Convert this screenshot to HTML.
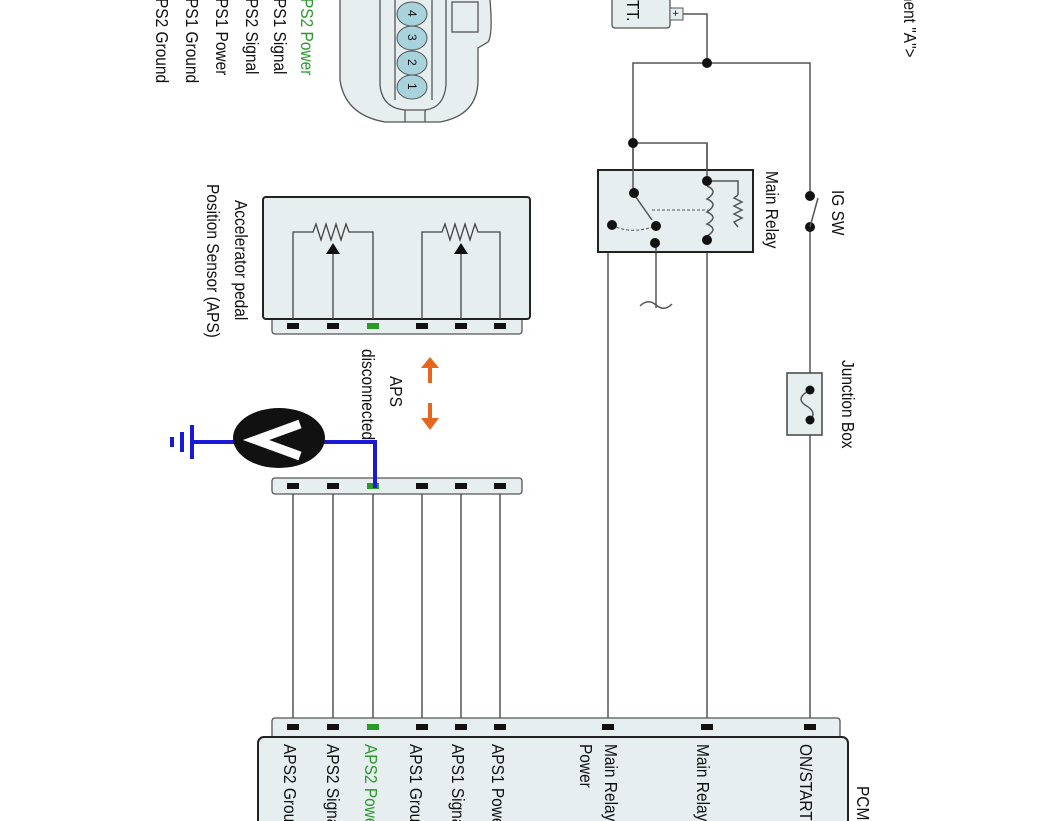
<!DOCTYPE html>
<html><head><meta charset="utf-8"><style>
html,body{margin:0;padding:0;background:#fff;}
svg{display:block;}
text{font-family:"Liberation Sans",sans-serif;font-size:18px;fill:#111;}
</style></head><body>
<svg width="1062" height="821" viewBox="0 0 1062 821" xmlns="http://www.w3.org/2000/svg">
<g>
<text transform="translate(301,-2) rotate(90) scale(0.86,1)" style="fill:#2a9a2a">PS2 Power</text>
<text transform="translate(274,-2) rotate(90) scale(0.86,1)">PS1 Signal</text>
<text transform="translate(246,-2) rotate(90) scale(0.86,1)">PS2 Signal</text>
<text transform="translate(216,-2) rotate(90) scale(0.86,1)">PS1 Power</text>
<text transform="translate(186,-2) rotate(90) scale(0.86,1)">PS1 Ground</text>
<text transform="translate(156,-2) rotate(90) scale(0.86,1)">PS2 Ground</text>
</g>
<g stroke="#555" stroke-width="1.3" fill="#e6eef0">
<path d="M340,-5 L340,80 Q345,115 385,122 L440,122 Q478,115 478,80 L478,48 L488,42 Q493,35 490,0 L490,-5 Z"/>
<path d="M380,-5 L380,85 Q382,108 405,110 L425,110 Q444,108 446,85 L446,-5" fill="none"/>
<rect x="452" y="2" width="26" height="30" fill="none"/>
<line x1="405" y1="110" x2="405" y2="122"/><line x1="425" y1="110" x2="425" y2="122"/>
<line x1="395" y1="-5" x2="395" y2="100" />
<line x1="432" y1="-5" x2="432" y2="100" />
</g>
<g stroke="#555" stroke-width="1" fill="#a9d3dc">
<ellipse cx="412" cy="14" rx="15" ry="12"/>
<ellipse cx="412" cy="38" rx="15" ry="12"/>
<ellipse cx="412" cy="63" rx="15" ry="12"/>
<ellipse cx="412" cy="87" rx="15" ry="12"/>
</g>
<text transform="translate(408,10) rotate(90)" style="font-size:12px">4</text>
<text transform="translate(408,34) rotate(90)" style="font-size:12px">3</text>
<text transform="translate(408,59) rotate(90)" style="font-size:12px">2</text>
<text transform="translate(408,83) rotate(90)" style="font-size:12px">1</text>

<rect x="612" y="-5" width="58" height="33" rx="3" fill="#e6eef0" stroke="#555" stroke-width="1.3"/>
<text transform="translate(627,0) rotate(90) scale(0.86,1)">TT.</text>
<rect x="670" y="8" width="13" height="12" fill="#e6eef0" stroke="#555" stroke-width="1"/>
<text transform="translate(672,10) rotate(90)" style="font-size:11px">+</text>
<text transform="translate(904,-20) rotate(90) scale(0.86,1)">ement "A"&gt;</text>

<g stroke="#555" stroke-width="1.5" fill="none">
<polyline points="683,14 707,14 707,63"/>
<polyline points="633,193 633,63 810,63 810,196"/>
<polyline points="633,143 707,143 707,181"/>
<line x1="810" y1="227" x2="810" y2="727"/>
<line x1="707" y1="240" x2="707" y2="727"/>
<polyline points="656,243 608,243 608,727"/>
<line x1="656" y1="226" x2="656" y2="308"/>
<path d="M640,306 Q648,298 656,305 Q664,312 672,304"/>
<line x1="293" y1="486" x2="293" y2="727"/>
<line x1="333" y1="486" x2="333" y2="727"/>
<line x1="373" y1="486" x2="373" y2="727"/>
<line x1="422" y1="486" x2="422" y2="727"/>
<line x1="461" y1="486" x2="461" y2="727"/>
<line x1="500" y1="486" x2="500" y2="727"/>
</g>

<rect x="598" y="170" width="155" height="82" fill="#e6eef0" stroke="#222" stroke-width="2"/>
<g stroke="#555" stroke-width="1.5" fill="none">
<line x1="633" y1="143" x2="633" y2="193"/>
<line x1="707" y1="143" x2="707" y2="181"/>
<line x1="633" y1="193" x2="652" y2="220"/>
<line x1="652" y1="210" x2="712" y2="210" stroke-dasharray="3,2" stroke-width="1"/>
<path d="M612,225 Q630,235 656,226" stroke-dasharray="3,2" stroke-width="1"/>
<polyline points="656,243 656,252"/>
<path d="M707,186 Q719,191 707,199 Q719,204 707,212 Q719,217 707,224 Q719,229 707,236"/>
<polyline points="707,181 738,181 738,195 M738,227 738,240 707,240"/>
<polyline points="738,195 734,198 742,202 734,206 742,210 734,214 742,218 734,222 738,227"/>
<line x1="707" y1="181" x2="707" y2="186"/>
<line x1="707" y1="236" x2="707" y2="240"/>
</g>
<g fill="#111">
<circle cx="707" cy="63" r="5"/><circle cx="633" cy="143" r="5"/>
<circle cx="634" cy="193" r="5"/><circle cx="707" cy="181" r="5"/><circle cx="707" cy="240" r="5"/>
<circle cx="656" cy="226" r="5"/><circle cx="655" cy="243" r="5"/><circle cx="612" cy="225" r="5"/>
<circle cx="810" cy="196" r="5"/><circle cx="810" cy="227" r="5"/>
</g>
<line x1="810" y1="227" x2="818" y2="198" stroke="#555" stroke-width="1.5"/>
<text transform="translate(766,171) rotate(90) scale(0.86,1)">Main Relay</text>
<text transform="translate(832,190) rotate(90) scale(0.86,1)">IG SW</text>

<rect x="787" y="373" width="35" height="62" fill="#e6eef0" stroke="#444" stroke-width="1.5"/>
<path d="M810,390 Q795,398 805,405 Q818,412 810,420" fill="none" stroke="#555" stroke-width="1.5"/>
<circle cx="810" cy="390" r="4.5" fill="#111"/><circle cx="810" cy="420" r="4.5" fill="#111"/>
<text transform="translate(842,360) rotate(90) scale(0.86,1)">Junction Box</text>

<rect x="272" y="312" width="250" height="22" rx="3" fill="#e6eef0" stroke="#555" stroke-width="1.3"/>
<rect x="263" y="197" width="267" height="122" rx="3" fill="#e6eef0" stroke="#222" stroke-width="2"/>
<g stroke="#444" stroke-width="1.3" fill="none">
<polyline points="293,319 293,232 313,232 316,224 321,240 326,224 331,240 336,224 341,240 346,224 349,232 373,232 373,319"/>
<line x1="333" y1="319" x2="333" y2="252"/>
<polyline points="422,319 422,232 442,232 445,224 450,240 455,224 460,240 465,224 470,240 475,224 478,232 500,232 500,319"/>
<line x1="461" y1="319" x2="461" y2="252"/>
</g>
<polygon points="333,243 326,254 340,254" fill="#111"/>
<polygon points="461,243 454,254 468,254" fill="#111"/>
<g>
<rect x="287" y="323" width="12" height="6" fill="#111"/><rect x="327" y="323" width="12" height="6" fill="#111"/>
<rect x="367" y="323" width="12" height="6" fill="#2a9a2a"/><rect x="416" y="323" width="12" height="6" fill="#111"/>
<rect x="455" y="323" width="12" height="6" fill="#111"/><rect x="494" y="323" width="12" height="6" fill="#111"/>
</g>
<text transform="translate(235,200) rotate(90) scale(0.86,1)">Accelerator pedal</text>
<text transform="translate(207,184) rotate(90) scale(0.86,1)">Position Sensor (APS)</text>

<g fill="#e8651f">
<rect x="428" y="366" width="4" height="17"/><polygon points="421,368 439,368 430,357"/>
<rect x="428" y="403" width="4" height="17"/><polygon points="421,418 439,418 430,430"/>
</g>
<text transform="translate(390,376) rotate(90) scale(0.86,1)">APS</text>
<text transform="translate(362,349) rotate(90) scale(0.86,1)">disconnected</text>

<rect x="272" y="478" width="250" height="16" rx="3" fill="#e6eef0" stroke="#555" stroke-width="1.3"/>
<g>
<rect x="287" y="483" width="12" height="6" fill="#111"/><rect x="327" y="483" width="12" height="6" fill="#111"/>
<rect x="367" y="483" width="12" height="6" fill="#2a9a2a"/><rect x="416" y="483" width="12" height="6" fill="#111"/>
<rect x="455" y="483" width="12" height="6" fill="#111"/><rect x="494" y="483" width="12" height="6" fill="#111"/>
</g>

<g stroke="#1a1ad6" stroke-width="4" fill="none">
<polyline points="320,442 375,442 375,488"/>
<line x1="192" y1="442" x2="236" y2="442"/>
<line x1="192" y1="425" x2="192" y2="459"/>
<line x1="182" y1="432" x2="182" y2="452"/>
<line x1="172" y1="437" x2="172" y2="447"/>
</g>
<ellipse cx="279" cy="438" rx="46" ry="30" fill="#111"/>
<polyline points="300,424 256,440 300,456" fill="none" stroke="#fff" stroke-width="9"/>

<rect x="272" y="718" width="568" height="24" rx="3" fill="#e6eef0" stroke="#555" stroke-width="1.3"/>
<rect x="258" y="737" width="590" height="100" rx="6" fill="#e6eef0" stroke="#222" stroke-width="2"/>
<g fill="#111">
<rect x="287" y="724" width="12" height="6"/><rect x="327" y="724" width="12" height="6"/>
<rect x="367" y="724" width="12" height="6" fill="#2a9a2a"/><rect x="416" y="724" width="12" height="6"/>
<rect x="455" y="724" width="12" height="6"/><rect x="494" y="724" width="12" height="6"/>
<rect x="602" y="724" width="12" height="6"/><rect x="701" y="724" width="12" height="6"/>
<rect x="804" y="724" width="12" height="6"/>
</g>
<text transform="translate(284,744) rotate(90) scale(0.86,1)">APS2 Ground</text>
<text transform="translate(327,744) rotate(90) scale(0.86,1)">APS2 Signal</text>
<text transform="translate(365,744) rotate(90) scale(0.86,1)" style="fill:#2a9a2a">APS2 Power</text>
<text transform="translate(410,744) rotate(90) scale(0.86,1)">APS1 Ground</text>
<text transform="translate(452,744) rotate(90) scale(0.86,1)">APS1 Signal</text>
<text transform="translate(492,744) rotate(90) scale(0.86,1)">APS1 Power</text>
<text transform="translate(580,744) rotate(90) scale(0.86,1)">Power</text>
<text transform="translate(605,744) rotate(90) scale(0.86,1)">Main Relay</text>
<text transform="translate(697,744) rotate(90) scale(0.86,1)">Main Relay</text>
<text transform="translate(800,744) rotate(90) scale(0.86,1)">ON/START</text>
<text transform="translate(857,786) rotate(90) scale(0.86,1)">PCM</text>
</svg>
</body></html>
